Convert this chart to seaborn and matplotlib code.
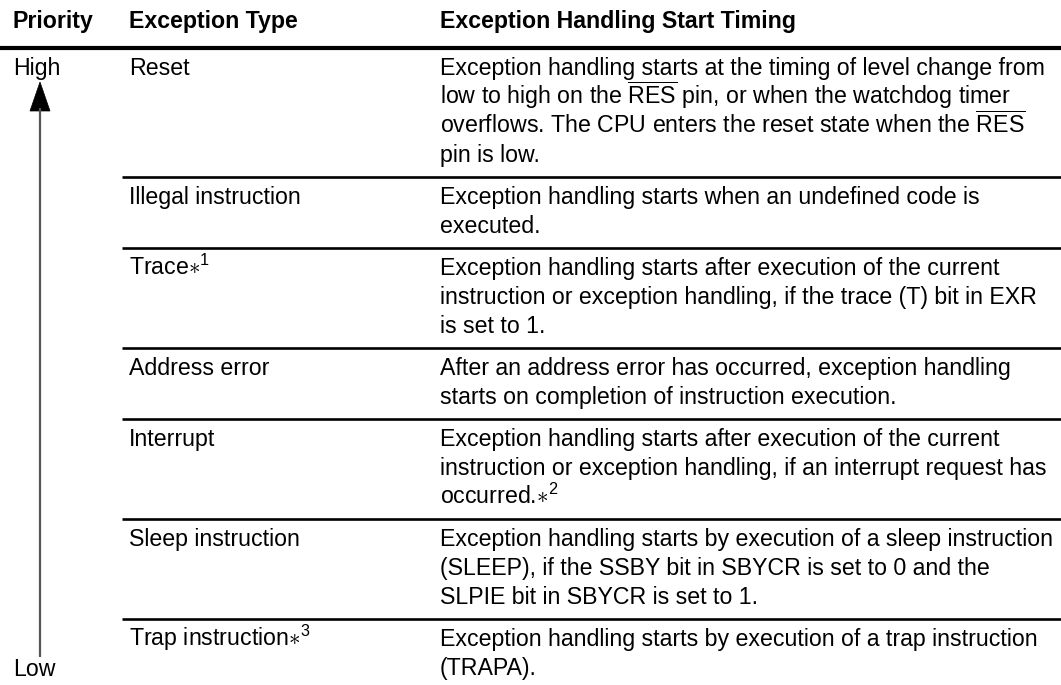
import matplotlib
matplotlib.use('Agg')
import matplotlib.pyplot as plt
import seaborn as sns
from matplotlib.patches import Polygon

# table content
headers = ['Priority', 'Exception Type', 'Exception Handling Start Timing']
priority_high = 'High'
priority_low = 'Low'
exc_types = ['Reset', 'Illegal instruction', r'Trace$\ast^{1}$', 'Address error',
             'Interrupt', 'Sleep instruction', r'Trap instruction$\ast^{3}$']
timings = [
    ['Exception handling starts at the timing of level change from',
     r'low to high on the $\overline{\mathrm{RES}}$ pin, or when the watchdog timer',
     r'overflows. The CPU enters the reset state when the $\overline{\mathrm{RES}}$',
     'pin is low.'],
    ['Exception handling starts when an undefined code is',
     'executed.'],
    ['Exception handling starts after execution of the current',
     'instruction or exception handling, if the trace (T) bit in EXR',
     'is set to 1.'],
    ['After an address error has occurred, exception handling',
     'starts on completion of instruction execution.'],
    ['Exception handling starts after execution of the current',
     'instruction or exception handling, if an interrupt request has',
     r'occurred.$\ast^{2}$'],
    ['Exception handling starts by execution of a sleep instruction',
     '(SLEEP), if the SSBY bit in SBYCR is set to 0 and the',
     'SLPIE bit in SBYCR is set to 1.'],
    ['Exception handling starts by execution of a trap instruction',
     '(TRAPA).'],
]

sns.set_theme(style='white')
plt.rcParams['font.family'] = ['Liberation Sans', 'DejaVu Sans']
plt.rcParams['mathtext.fontset'] = 'custom'
plt.rcParams['mathtext.rm'] = 'Liberation Sans'
plt.rcParams['mathtext.it'] = 'Liberation Sans'

W, H = 1061, 685
fig = plt.figure(figsize=(W / 100, H / 100), dpi=100)
ax = fig.add_axes([0, 0, 1, 1])
ax.set_xlim(0, W)
ax.set_ylim(H, 0)
ax.axis('off')

fs = 16.7
line_h = 29
pad = 13
col_x = [13, 129, 440]
head_rule = 48

# header
for x, h in zip(col_x, headers):
    ax.text(x, 28, h, fontsize=fs, fontweight='bold', color='black', va='baseline')
ax.plot([0, W], [head_rule, head_rule], color='black', lw=3, solid_capstyle='butt')

# rows
y = head_rule
for i, (etype, lines) in enumerate(zip(exc_types, timings)):
    if i > 0:
        ax.plot([122, W], [y, y], color='black', lw=1.9, solid_capstyle='butt')
    base = y + 27
    ax.text(col_x[1], base, etype, fontsize=fs, color='black', va='baseline')
    for k, ln in enumerate(lines):
        ax.text(col_x[2], base + k * line_h, ln, fontsize=fs, color='black', va='baseline')
    if i == 0:
        ax.text(col_x[0], base, priority_high, fontsize=fs, color='black', va='baseline')
    y += line_h * len(lines) + pad

# priority arrow
ax.text(col_x[0], 676, priority_low, fontsize=fs, color='black', va='baseline')
ax.plot([40, 40], [108, 657], color='#555555', lw=1.6, solid_capstyle='butt')
ax.add_patch(Polygon([[40, 82], [30, 111], [50, 111]], closed=True,
                     facecolor='black', edgecolor='black', lw=0.5))

fig.savefig('out.png', dpi=100)
